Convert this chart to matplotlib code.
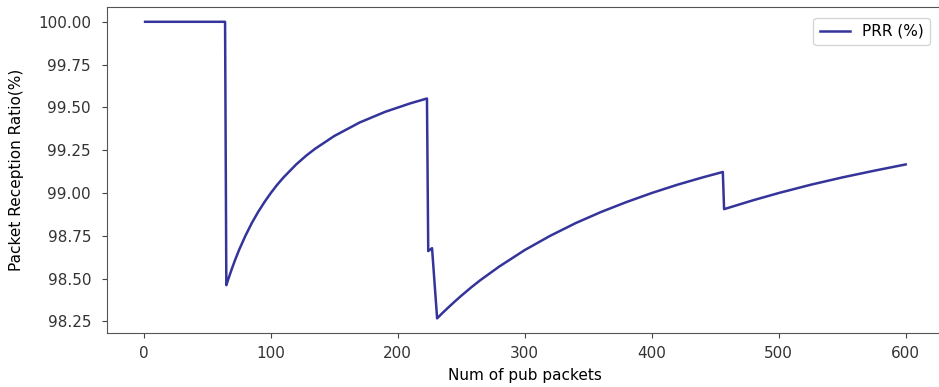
import matplotlib
matplotlib.use('Agg')
import matplotlib.pyplot as plt

# packet number vs PRR (%)
pkt = [1, 64, 65, 66, 67, 68, 70, 72, 75, 80, 85, 90, 95, 100, 105, 110, 120, 128, 135,
       150, 170, 190, 210, 223,
       224, 227, 231, 235, 240, 245, 250, 258, 265, 280, 300, 320, 340, 360, 380, 400,
       420, 440, 456,
       457, 480, 500, 525, 550, 575, 600]
prr = [100.0, 100.0, 98.462, 98.485, 98.507, 98.529, 98.571, 98.611, 98.667, 98.750,
       98.824, 98.889, 98.947, 99.000, 99.048, 99.091, 99.167, 99.219, 99.259,
       99.333, 99.412, 99.474, 99.524, 99.552,
       98.661, 98.678, 98.268, 98.298, 98.333, 98.367, 98.400, 98.450, 98.491, 98.571,
       98.667, 98.750, 98.824, 98.889, 98.947, 99.000,
       99.048, 99.091, 99.123,
       98.906, 98.958, 99.000, 99.048, 99.091, 99.130, 99.167]

plt.rcParams['font.size'] = 11

fig = plt.figure(figsize=(9.39, 3.87), dpi=100)
ax = fig.add_axes([0.114, 0.139, 0.891, 0.843])

ax.plot(pkt, prr, color='#34349a', linewidth=1.8, label='PRR (%)')

ax.set_xticks([0, 100, 200, 300, 400, 500, 600])
ax.set_yticks([98.25, 98.5, 98.75, 99.0, 99.25, 99.5, 99.75, 100.0])
ax.yaxis.set_major_formatter(matplotlib.ticker.FormatStrFormatter('%.2f'))
ax.set_xlabel('Num of pub packets', labelpad=5)
ax.set_ylabel('Packet Reception Ratio(%)', labelpad=10)

for s in ax.spines.values():
    s.set_color('#555555')
ax.tick_params(colors='#444444', labelcolor='#333333')
ax.tick_params(axis='x', pad=6)
ax.tick_params(axis='y', pad=8)

ax.legend(loc='upper right', bbox_to_anchor=(0.993, 0.99))

fig.savefig('out.png', dpi=100)
